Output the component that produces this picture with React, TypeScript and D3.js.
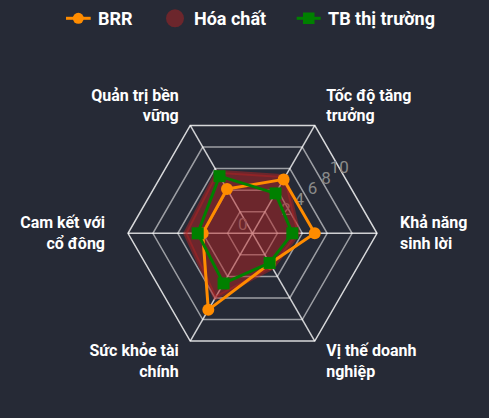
import React from "react";
import * as d3 from "d3";

const categories = [
  ["Tốc độ tăng", "trưởng"],
  ["Khả năng", "sinh lời"],
  ["Vị thế doanh", "nghiệp"],
  ["Sức khỏe tài", "chính"],
  ["Cam kết với", "cổ đông"],
  ["Quản trị bền", "vững"],
];
const brr = [5.0, 5.0, 2.8, 7.1, 4.0, 4.1];
const hoaChat = [5.3, 3.7, 3.2, 6.0, 5.4, 5.7];
const tbThiTruong = [3.7, 3.2, 2.75, 4.65, 4.4, 5.3];
const ringTicks = [2, 4, 6, 8, 10];
const tickLabels = ["0", "2", "4", "6", "8", "10"];

const W = 489;
const H = 418;
const BG = "#262a36";
const ORANGE = "#ff8c00";
const GREEN = "#008000";
const FONT = "Roboto, 'Noto Sans', sans-serif";

export default function App() {
  const cx = 252.5;
  const cy = 233.3;
  const R = 124.5;
  const r = d3.scaleLinear().domain([0, 10]).range([0, R]);
  const n = categories.length;
  const ang = d3
    .scaleLinear()
    .domain([0, n])
    .range([Math.PI / 6, Math.PI / 6 + 2 * Math.PI]);
  const radial = (vals: number[]) =>
    d3
      .lineRadial<number>()
      .angle((_, i) => ang(i))
      .radius((d) => r(d))
      .curve(d3.curveLinearClosed)(vals) as string;
  const pt = (i: number, v: number): [number, number] => {
    const a = ang(i);
    return [cx + r(v) * Math.sin(a), cy - r(v) * Math.cos(a)];
  };
  const ring = (v: number) => radial(d3.range(n).map(() => v));

  const tx = d3.scaleLinear().domain([2, 10]).range([286, 339.3]);
  const ty = d3.scaleLinear().domain([2, 10]).range([209.3, 167.3]);

  return (
    <svg
      width={W}
      height={H}
      style={{ position: "absolute", left: 0, top: 0, background: BG }}
      fontFamily={FONT}
    >
      <rect x={0} y={0} width={W} height={H} fill={BG} />
      {/* Legend */}
      <g fontWeight="bold" fontSize={18} fill="#ffffff">
        <line x1={66} x2={90.7} y1={18.3} y2={18.3} stroke={ORANGE} strokeWidth={3} />
        <circle cx={78.3} cy={18.3} r={5.5} fill={ORANGE} />
        <text x={98} y={18.3} dominantBaseline="central">BRR</text>
        <circle cx={175} cy={18.3} r={9} fill="rgb(178,34,34)" fillOpacity={0.5} />
        <text x={194} y={18.3} dominantBaseline="central">Hóa chất</text>
        <line x1={296.7} x2={320.7} y1={18.3} y2={18.3} stroke={GREEN} strokeWidth={3} />
        <rect x={303} y={12.5} width={11.5} height={11.5} fill={GREEN} />
        <text x={328} y={18.3} dominantBaseline="central">TB thị trường</text>
      </g>
      <g transform={`translate(${cx},${cy})`}>
        {ringTicks.map((v) => (
          <path
            key={v}
            d={ring(v)}
            fill="none"
            stroke={v === 10 ? "rgba(255,255,255,0.82)" : "rgba(255,255,255,0.55)"}
            strokeWidth={1.5}
          />
        ))}
        {d3.range(n).map((i) => (
          <line
            key={i}
            x1={0}
            y1={0}
            x2={r(10) * Math.sin(ang(i))}
            y2={-r(10) * Math.cos(ang(i))}
            stroke="rgba(255,255,255,0.78)"
            strokeWidth={1.5}
          />
        ))}
      </g>
      {/* tick labels */}
      <g fontSize={17} fill="#8a8a8a">
        {tickLabels.map((t) => {
          const v = +t;
          const x = v === 0 ? 242.7 : tx(v);
          const y = v === 0 ? 224 : ty(v);
          return (
            <text key={t} x={x} y={y} textAnchor="middle" dominantBaseline="central">
              {t}
            </text>
          );
        })}
      </g>
      <g transform={`translate(${cx},${cy})`}>
        <path
          d={radial(hoaChat)}
          fill="rgb(178,34,34)"
          fillOpacity={0.5}
          stroke="rgb(178,34,34)"
          strokeOpacity={0.5}
          strokeWidth={4}
          strokeLinejoin="round"
        />
        <path d={radial(brr)} fill="none" stroke={ORANGE} strokeWidth={3} strokeLinejoin="round" />
      </g>
      {brr.map((v, i) => {
        const [x, y] = pt(i, v);
        return <circle key={i} cx={x} cy={y} r={6} fill={ORANGE} />;
      })}
      <g transform={`translate(${cx},${cy})`}>
        <path d={radial(tbThiTruong)} fill="none" stroke={GREEN} strokeWidth={3} strokeLinejoin="round" />
      </g>
      {tbThiTruong.map((v, i) => {
        const [x, y] = pt(i, v);
        return <rect key={i} x={x - 6} y={y - 6} width={12} height={12} fill={GREEN} />;
      })}
      {/* category labels */}
      <g fontWeight="bold" fontSize={16} fill="#ffffff">
        {categories.map((lines, i) => {
          const a = ang(i);
          const s = Math.sin(a);
          const x = cx + (R + 23) * s;
          const y = cy - (R + 23) * Math.cos(a);
          const anchor = s > 0.01 ? "start" : s < -0.01 ? "end" : "middle";
          return (
            <text key={i} x={x} y={y} textAnchor={anchor}>
              {lines.map((l, j) => (
                <tspan key={j} x={x} y={y + (j - (lines.length - 1) / 2) * 20.8} dominantBaseline="central">
                  {l}
                </tspan>
              ))}
            </text>
          );
        })}
      </g>
    </svg>
  );
}
